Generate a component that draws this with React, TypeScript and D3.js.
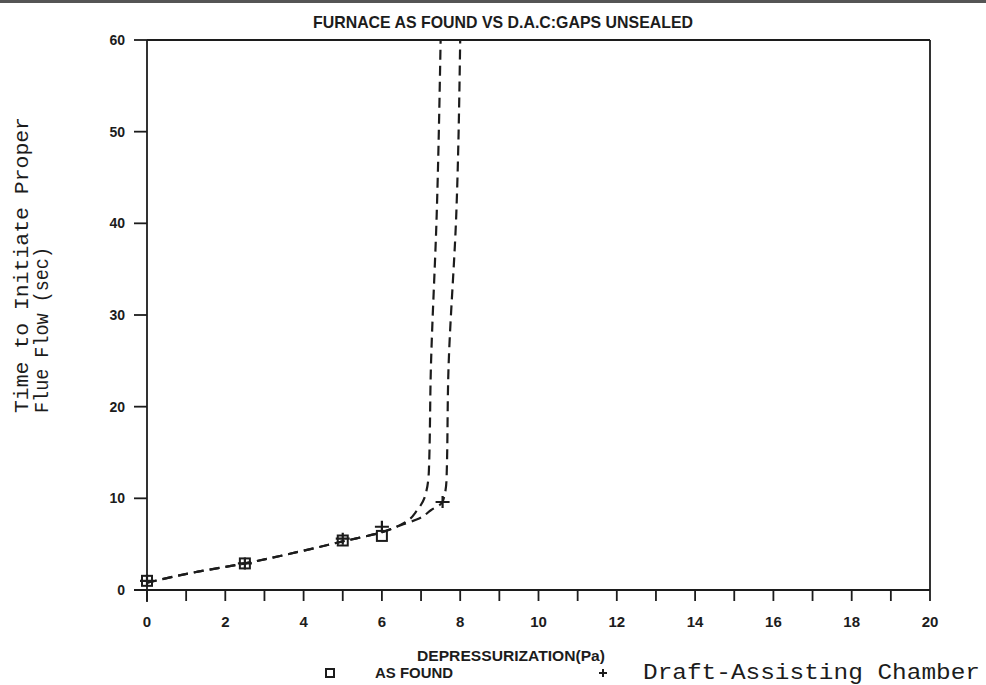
import * as d3 from "d3";

// axis ticks
const xTicks = d3.range(0, 21, 1);
const xLabels = [0, 2, 4, 6, 8, 10, 12, 14, 16, 18, 20];
const yLabels = [0, 10, 20, 30, 40, 50, 60];

// measured points
const asFoundX = [0, 2.5, 5, 6];
const asFoundY = [1, 2.9, 5.4, 5.9];
const dacX = [0, 2.5, 5, 6, 7.55];
const dacY = [1, 2.9, 5.6, 6.9, 9.6];

// fitted curves
const asFoundFitX = [0, 1.3, 2.5, 3.9, 5, 6, 6.6, 6.9, 7.1, 7.2, 7.25, 7.4, 7.5];
const asFoundFitY = [0.8, 2.0, 2.9, 4.2, 5.3, 6.3, 7.4, 8.7, 10.2, 13, 24, 41, 60];
const dacFitX = [0, 1.3, 2.5, 3.9, 5, 6, 6.5, 6.95, 7.25, 7.55, 7.65, 7.7, 7.9, 8.0];
const dacFitY = [0.8, 2.0, 2.9, 4.2, 5.3, 6.3, 7.1, 7.8, 8.7, 9.6, 12, 24, 41, 60];

const W = 986;
const H = 685;
const INK = "#1c1c1c";

export default function App() {
  const x = d3.scaleLinear().domain([0, 20]).range([147, 930]);
  const y = d3.scaleLinear().domain([0, 60]).range([590, 40]);

  const line = d3
    .line<[number, number]>()
    .x((d) => x(d[0]))
    .y((d) => y(d[1]))
    .curve(d3.curveMonotoneY);

  const asFoundFit = asFoundFitX.map((v, i) => [v, asFoundFitY[i]] as [number, number]);
  const dacFit = dacFitX.map((v, i) => [v, dacFitY[i]] as [number, number]);

  const tickFont = "'Liberation Sans', Arial, sans-serif";
  const mono = "'Liberation Mono', 'DejaVu Sans Mono', monospace";

  return (
    <div style={{ position: "absolute", left: 0, top: 0 }}>
      <svg width={W} height={H} style={{ display: "block", background: "#fff" }}>
        {/* scanned page edge */}
        <rect x={0} y={0} width={W} height={3} fill="#555" />

        {/* title */}
        <text
          x={313}
          y={28}
          textLength={380}
          lengthAdjust="spacingAndGlyphs"
          fontFamily={tickFont}
          fontWeight="bold"
          fontSize={17}
          fill={INK}
        >
          FURNACE AS FOUND VS D.A.C:GAPS UNSEALED
        </text>

        {/* frame */}
        <g stroke={INK} strokeWidth={1.8} fill="none">
          <line x1={x(0)} x2={x(0)} y1={y(60)} y2={602} />
          <line x1={134} x2={x(20)} y1={y(0)} y2={y(0)} />
          <line x1={x(0)} x2={x(20)} y1={y(60)} y2={y(60)} />
          <line x1={x(20)} x2={x(20)} y1={y(60)} y2={y(0)} />
          {xTicks.map((t) => (
            <line key={"xt" + t} x1={x(t)} x2={x(t)} y1={y(0)} y2={601} />
          ))}
          {yLabels.map((t) => (
            <line key={"yt" + t} x1={134} x2={x(0)} y1={y(t)} y2={y(t)} />
          ))}
        </g>

        {/* tick labels */}
        {xLabels.map((t) => (
          <text
            key={"xl" + t}
            x={x(t)}
            y={627}
            textAnchor="middle"
            fontFamily={tickFont}
            fontWeight="bold"
            fontSize={15}
            fill={INK}
          >
            {t}
          </text>
        ))}
        {yLabels.map((t) => (
          <text
            key={"yl" + t}
            x={125}
            y={y(t)}
            dy="0.36em"
            textAnchor="end"
            fontFamily={tickFont}
            fontWeight="bold"
            fontSize={14}
            fill={INK}
          >
            {t}
          </text>
        ))}

        {/* axis titles */}
        <g transform="translate(28,413) rotate(-90)">
          <text x={0} y={0} textLength={296} lengthAdjust="spacingAndGlyphs" fontFamily={mono} fontSize={21} fill={INK}>
            Time to Initiate Proper
          </text>
          <text x={0} y={20} textLength={166} lengthAdjust="spacingAndGlyphs" fontFamily={mono} fontSize={21} fill={INK}>
            Flue Flow (sec)
          </text>
        </g>
        <text
          x={417}
          y={661}
          textLength={188}
          lengthAdjust="spacingAndGlyphs"
          fontFamily={tickFont}
          fontWeight="bold"
          fontSize={15}
          fill={INK}
        >
          DEPRESSURIZATION(Pa)
        </text>

        {/* fitted curves */}
        <path d={line(asFoundFit) ?? ""} fill="none" stroke={INK} strokeWidth={2.2} strokeDasharray="10,6" />
        <path d={line(dacFit) ?? ""} fill="none" stroke={INK} strokeWidth={2.2} strokeDasharray="10,6" />

        {/* markers */}
        {asFoundX.map((v, i) => (
          <rect
            key={"sq" + i}
            x={x(v) - 5}
            y={y(asFoundY[i]) - 5}
            width={10}
            height={10}
            fill="none"
            stroke={INK}
            strokeWidth={2}
          />
        ))}
        {dacX.map((v, i) => (
          <path
            key={"pl" + i}
            d={`M${x(v) - 7},${y(dacY[i])}H${x(v) + 7}M${x(v)},${y(dacY[i]) - 6}V${y(dacY[i]) + 6}`}
            stroke={INK}
            strokeWidth={2.2}
            fill="none"
          />
        ))}

        {/* legend */}
        <rect x={326} y={669} width={8} height={8} fill="none" stroke={INK} strokeWidth={2} />
        <text
          x={375}
          y={678}
          textLength={78}
          lengthAdjust="spacingAndGlyphs"
          fontFamily={tickFont}
          fontWeight="bold"
          fontSize={14}
          fill={INK}
        >
          AS FOUND
        </text>
        <path d="M599,673H607M603,669V677" stroke={INK} strokeWidth={2} />
        <text
          x={643}
          y={679}
          textLength={337}
          lengthAdjust="spacingAndGlyphs"
          fontFamily={mono}
          fontSize={22}
          fill={INK}
        >
          Draft-Assisting Chamber
        </text>
      </svg>
    </div>
  );
}
